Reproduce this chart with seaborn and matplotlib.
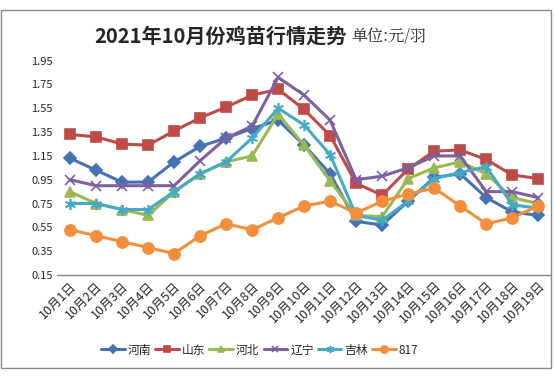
import numpy as np
import pandas as pd
import matplotlib
matplotlib.use('Agg')
import matplotlib.pyplot as plt
import matplotlib.patches as mpatches
import seaborn as sns

sns.set_style('white')
plt.rcParams['font.family'] = ['Noto Sans CJK SC', 'DejaVu Sans']

# data
dates = [f'10月{d}日' for d in range(1, 20)]
henan = [1.13, 1.03, 0.93, 0.93, 1.10, 1.23, 1.30, 1.38, 1.45, 1.24, 1.00,
         0.60, 0.57, 0.77, 0.97, 1.00, 0.80, 0.68, 0.65]
shandong = [1.33, 1.31, 1.25, 1.24, 1.36, 1.47, 1.56, 1.66, 1.71, 1.54, 1.32,
            0.92, 0.82, 1.04, 1.19, 1.20, 1.12, 0.99, 0.96]
hebei = [0.85, 0.75, 0.70, 0.65, 0.85, 1.00, 1.10, 1.15, 1.50, 1.24, 0.94,
         0.65, 0.64, 0.96, 1.05, 1.10, 1.00, 0.80, 0.75]
liaoning = [0.95, 0.90, 0.90, 0.90, 0.90, 1.11, 1.30, 1.40, 1.81, 1.66, 1.45,
            0.95, 0.98, 1.05, 1.15, 1.15, 0.85, 0.85, 0.80]
jilin = [0.75, 0.75, 0.70, 0.70, 0.85, 1.00, 1.10, 1.30, 1.55, 1.41, 1.16,
         0.65, 0.61, 0.77, 0.96, 1.01, 1.06, 0.74, 0.71]
s817 = [0.53, 0.48, 0.43, 0.38, 0.33, 0.48, 0.58, 0.53, 0.63, 0.73, 0.77,
        0.67, 0.77, 0.83, 0.88, 0.73, 0.58, 0.63, 0.73]

series = [('河南', henan, '#4472B4', 'D', 6),
          ('山东', shandong, '#BE4B48', 's', 7),
          ('河北', hebei, '#98B954', '^', 7),
          ('辽宁', liaoning, '#7D60A0', 'x', 7),
          ('吉林', jilin, '#46AAC5', (6, 2, 0), 8),
          ('817', s817, '#F38F3C', 'o', 8)]

fig = plt.figure(figsize=(5.54, 3.78), dpi=100)
ax = fig.add_axes([0.103, 0.2725, 0.892, 0.567])

for name, vals, col, mk, ms in series:
    df = pd.DataFrame({'date': dates, 'price': vals})
    sns.lineplot(data=df, x='date', y='price', ax=ax, color=col, marker=mk,
                 markersize=ms, linewidth=2.2, markeredgecolor=col,
                 markeredgewidth=1.2, label=name, sort=False)

ax.set_ylim(0.15, 1.95)
ax.set_xlim(-0.5, len(dates) - 0.5)
ax.set_yticks(np.arange(0.15, 1.96, 0.2))
ax.set_yticklabels([f'{v:.2f}' for v in np.arange(0.15, 1.96, 0.2)], fontsize=8)
ax.set_xticks(range(len(dates)))
ax.set_xticklabels(dates, rotation=45, ha='right', rotation_mode='anchor', fontsize=9)
ax.tick_params(axis='both', length=0, pad=3)
ax.set_xlabel('')
ax.set_ylabel('')
for side in ['top', 'right', 'left']:
    ax.spines[side].set_visible(False)
ax.spines['bottom'].set_color('#868686')
ax.spines['bottom'].set_linewidth(1)

ax.legend(loc='center', bbox_to_anchor=(0.41, -0.35), ncol=6, frameon=False,
          fontsize=8.5, handlelength=2.0, handletextpad=0.25, columnspacing=0.35,
          markerscale=0.65)

fig.text(0.625, 0.903, '2021年10月份鸡苗行情走势', fontsize=14.5, fontweight='bold',
         ha='right', va='center')
fig.text(0.635, 0.903, '单位:元/羽', fontsize=11.5, ha='left', va='center',
         family=['Noto Serif CJK SC', 'Noto Sans CJK SC', 'DejaVu Sans'])

fig.patches.append(mpatches.Rectangle((0.002, 0.026), 0.992, 0.948, transform=fig.transFigure,
                                      fill=False, edgecolor='#888888', linewidth=1))

fig.savefig('out.png', dpi=100)
